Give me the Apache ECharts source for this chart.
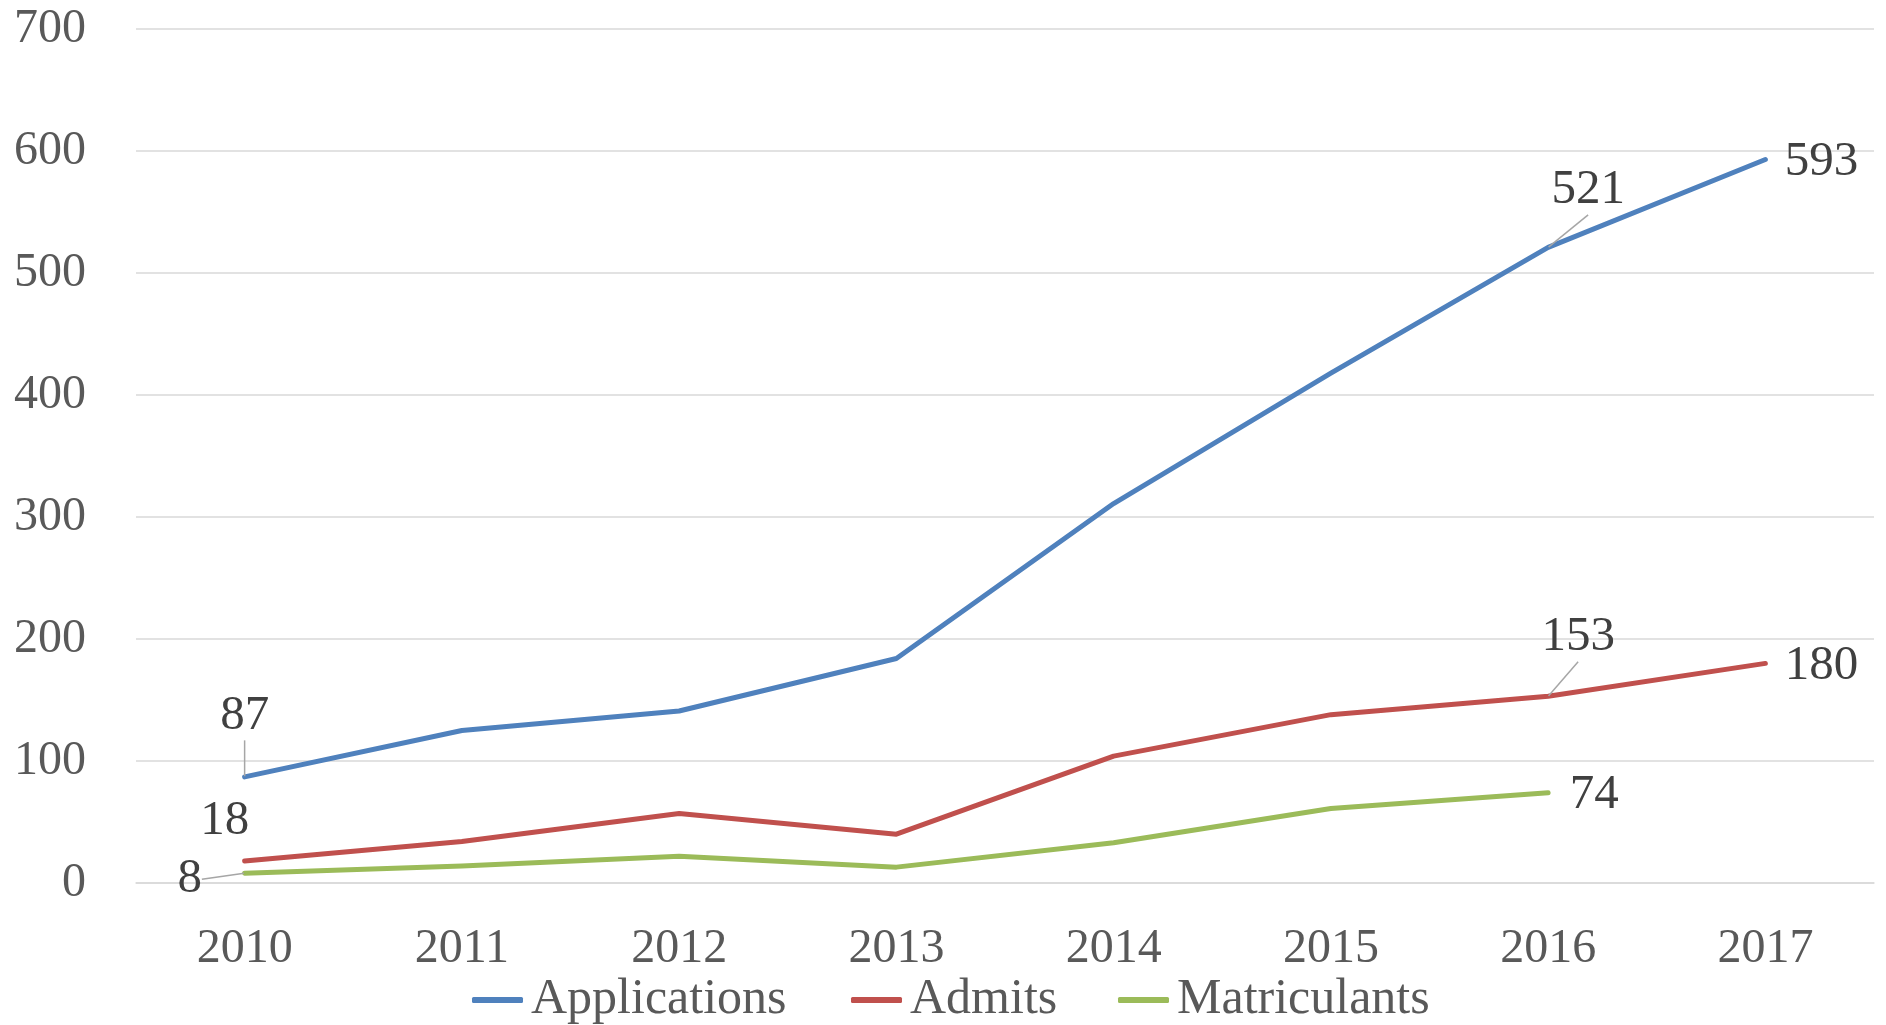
<!DOCTYPE html>
<html>
<head>
<meta charset="utf-8">
<script src="https://cdn.jsdelivr.net/npm/echarts@6/dist/echarts.min.js"></script>
<style>
html,body{margin:0;padding:0;background:#fff;}
#chart{width:1886px;height:1025px;}
</style>
</head>
<body>
<div id="chart"></div>
<script>
const years = ['2010','2011','2012','2013','2014','2015','2016','2017'];
const applications = [87, 125, 141, 184, 311, 418, 521, 593];
const admits = [18, 34, 57, 40, 104, 138, 153, 180];
const matriculants = [8, 14, 22, 13, 33, 61, 74, null];
const yTicks = [0, 100, 200, 300, 400, 500, 600, 700];

const names = ['Applications', 'Admits', 'Matriculants'];
const colors = ['#4f81bd', '#c0504d', '#9bbb59'];
const values = [applications, admits, matriculants];
const legendLefts = [467, 846, 1113];

// label placement: [dataIndex, dx, dy, leader]
const labelPlace = [
  [[0, 0, -61, true], [6, 40, -57, true], [7, 56, 3, false]],
  [[0, -20, -40, false], [6, 30, -59, true], [7, 56, 3, false]],
  [[0, -55, 6, true], [6, 46, 2, false]]
];

const FONT = '"Liberation Serif", "DejaVu Serif", serif';

const series = values.map((arr, si) => {
  const data = arr.map((v, di) => {
    const p = labelPlace[si].find(q => q[0] === di);
    if (!p || v == null) return v;
    return {
      value: v,
      label: { show: true },
      labelLine: { show: p[3] }
    };
  });
  return {
    name: names[si],
    type: 'line',
    data: data,
    symbol: 'circle',
    symbolSize: 1,
    showSymbol: true,
    itemStyle: { color: colors[si] },
    lineStyle: { color: colors[si], width: 5, cap: 'round', join: 'round' },
    label: {
      show: false,
      position: 'inside',
      color: '#404040',
      fontFamily: FONT,
      fontSize: 49
    },
    labelLine: { show: false, lineStyle: { color: '#a6a6a6', width: 1.5 } },
    labelLayout: function (params) {
      const p = labelPlace[si].find(q => q[0] === params.dataIndex);
      if (!p) return {};
      return { dx: p[1], dy: p[2] };
    },
    emphasis: { disabled: true },
    animation: false
  };
});

const legends = names.map((n, i) => ({
  data: [n],
  left: legendLefts[i],
  top: 970,
  icon: 'roundRect',
  itemWidth: 51,
  itemHeight: 6,
  textStyle: { color: '#595959', fontFamily: FONT, fontSize: 50, padding: [0, 0, 0, 3] }
}));

const chart = echarts.init(document.getElementById('chart'));
chart.setOption({
  animation: false,
  backgroundColor: '#ffffff',
  grid: { left: 136, right: 12, top: 29, bottom: 142, containLabel: false },
  legend: legends,
  xAxis: {
    type: 'category',
    data: years,
    boundaryGap: true,
    axisLine: { show: true, lineStyle: { color: '#d9d9d9', width: 1.5 } },
    axisTick: { show: false },
    axisLabel: { color: '#595959', fontFamily: FONT, fontSize: 48, margin: 42 }
  },
  yAxis: {
    type: 'value',
    min: yTicks[0],
    max: yTicks[yTicks.length - 1],
    interval: yTicks[1] - yTicks[0],
    axisLine: { show: false },
    axisTick: { show: false },
    splitLine: { lineStyle: { color: '#d9d9d9', width: 1.5 } },
    axisLabel: { color: '#595959', fontFamily: FONT, fontSize: 48, margin: 50 }
  },
  series: series
});
</script>
</body>
</html>
